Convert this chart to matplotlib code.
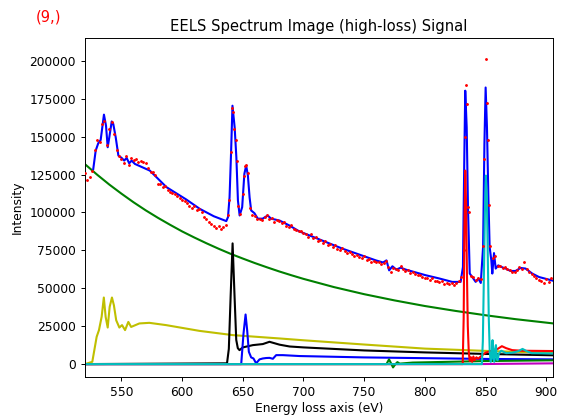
"""EELS high-loss spectrum with fitted model and components."""
import numpy as np
import matplotlib
matplotlib.use('Agg')
import matplotlib.pyplot as plt
from matplotlib.ticker import MultipleLocator

# measured spectrum (red dots), 2 eV grid 520..904
dot_e = np.arange(520, 905, 2)
dot_counts = [
    126000, 121500, 123500, 127500, 141000, 148000, 146500, 158000, 160000, 144500,
    155000, 159500, 152000, 141000, 137000, 135000, 132500, 137500, 131500, 136000,
    134500, 135500, 133500, 134000, 133000, 132500, 129000, 126500, 126500, 124500,
    119000, 118500, 117000, 117500, 114500, 113500, 112500, 112000, 111000, 109500,
    108500, 107500, 106500, 104000, 103000, 104000, 101500, 102000, 100000, 97000,
    95500, 94000, 92500, 91000, 90000, 91000, 89000, 90500, 92000, 98000,
    140000, 166000, 148000, 104000, 99000, 112000, 130500, 126000, 103000, 98500,
    97500, 96000, 95500, 95000, 97000, 98500, 96000, 96500, 94000, 95000,
    94500, 93000, 94000, 91000, 90500, 92000, 89000, 88500, 87500, 88000,
    86500, 86000, 84000, 85500, 83000, 83500, 81500, 82000, 80000, 81000,
    78500, 79000, 77000, 78500, 76000, 75500, 76500, 74500, 73000, 74000,
    72500, 71000, 72000, 70500, 70000, 71000, 68500, 69000, 67500, 68000,
    67000, 67500, 66000, 66500, 68000, 64000, 61000, 63500, 63000, 62000,
    64500, 62500, 61500, 62000, 60000, 60500, 59500, 58500, 59000, 57500,
    56500, 57000, 55500, 56500, 54500, 55000, 54000, 54500, 53000, 53500,
    52500, 53500, 52000, 53500, 55000, 57500, 75000, 184000, 100000, 58000,
    57500, 55500, 57000, 56000, 78000, 201000, 148000, 78000, 70000, 71000,
    65000, 64500, 63500, 64000, 62500, 62000, 61000, 60500, 62000, 64000,
    63000, 67000, 62500, 61000, 59500, 58000, 57000, 55500, 55000, 53500,
    56000, 54000, 57000,
]
# extra samples on the sharp edges
peak_dot_e = [639, 641, 643, 645, 651, 653, 833, 834.6, 835.4, 849, 851, 853]
peak_dot_counts = [108000, 169000, 155000, 134000, 124000, 131500,
                   150000, 171500, 103500, 135000, 172000, 105000]

# fitted model (blue)
model_e = [526.8, 528.8, 530.9, 532.9, 535.6, 537.3, 538.7, 540.0, 542.0, 543.3,
           545.3, 547.5, 550.1, 552.3, 554.3, 556.4, 558.4, 561.1, 573.4, 587.1,
           603.5, 614.5, 626.1, 636.4, 637.8, 639.1, 640.4, 641.5, 643.3, 644.7,
           646.0, 647.4, 649.5, 651.3, 652.8, 654.2, 655.6, 656.9, 659.6, 662.4,
           666.4, 670.5, 673.3, 680.2, 688.4, 696.6, 704.8, 732.2, 759.6, 765.6,
           768.4, 770.6, 773.3, 776.5, 780.2, 784.3, 800.7, 811.7, 822.6, 829.5,
           831.4, 832.5, 833.3, 834.5, 835.6, 837.0, 839.1, 841.9, 844.1, 846.1,
           848.0, 849.1, 850.1, 851.2, 852.3, 853.4, 854.8, 855.6, 857.0, 858.4,
           860.5, 863.3, 866.6, 870.6, 874.7, 878.9, 883.0, 888.5, 894.1, 902.3,
           905.5]
model = [128700, 140800, 145600, 147800, 164500, 157200, 143000, 149500, 160000, 158300,
         149500, 137500, 136000, 134200, 136000, 132400, 134200, 132000, 127600, 116700,
         108500, 102400, 97500, 94300, 96900, 110000, 140800, 170400, 156100, 136400,
         107900, 98000, 103500, 125500, 130900, 124300, 110000, 101300, 99500, 95900,
         95900, 98000, 95900, 94700, 91400, 87500, 84900, 76100, 68400, 67000,
         68400, 61800, 64500, 62300, 63600, 62300, 58600, 56500, 54200, 54200,
         64000, 134200, 180300, 156100, 101300, 59700, 57400, 54200, 56400, 53500,
         77200, 145200, 182400, 156100, 112300, 77200, 68400, 59700, 73200, 63000,
         65100, 64000, 63000, 61400, 61400, 63400, 63000, 59700, 57400, 55700,
         55000]

# power-law background (green)
bg_e = [520, 530, 540, 550, 560, 570, 580, 590, 600, 610, 620, 630, 640, 650,
        660, 670, 680, 690, 700, 725, 750, 775, 800, 825, 850, 875, 906]
bg = [131800, 124900, 118400, 112400, 106700, 101400, 96500, 91900, 87500, 83500,
      79700, 76100, 72700, 69600, 66600, 63800, 61100, 58600, 56200, 50800,
      46100, 42000, 38300, 35100, 32200, 29600, 26800]

# O K edge (yellow)
ok_e = [520, 526, 529.6, 531.5, 533.7, 535.5, 537, 538.7, 540.3, 542.2, 543.8,
        545.7, 548.3, 550.5, 553, 555.7, 558, 564.8, 573, 586.8, 614.3, 641.8,
        680.3, 700, 750, 800, 850, 906]
ok = [0, 1500, 18000, 22400, 31200, 43900, 31100, 24100, 37700, 43900, 38800,
      28900, 24100, 25700, 22400, 27800, 24500, 26800, 27200, 25700, 21900, 19100,
      16900, 15700, 12900, 10200, 8700, 7300]

# Mn L3 (black)
l3_e = [520, 637, 638.5, 640, 641.6, 643.2, 644.6, 645.9, 647.3, 650, 658.3,
        666.5, 672, 680.3, 688.6, 700, 750, 800, 850, 906]
l3 = [0, 500, 10000, 45000, 79600, 45000, 16000, 10500, 9200, 11000, 12500,
      13200, 14700, 12800, 11600, 11000, 9000, 7700, 6700, 5800]

# Mn L2 (blue)
l2_e = [520, 648.7, 650.6, 652.3, 653.6, 655, 656.9, 658.8, 661, 663.8, 666.5,
        669.3, 672, 674.8, 677.5, 683, 696.8, 750, 800, 850, 906]
l2 = [0, 0, 20200, 32700, 22400, 8100, 4400, 3700, 500, 3100, 3700,
      4000, 4100, 3500, 5900, 5900, 5300, 4400, 3900, 3400, 3100]

# small edge near 770 eV (green)
fe_e = [520, 768.4, 770.5, 772.5, 773.8, 775.8, 777.4, 779.3, 790, 850, 906]
fe = [0, 0, 3100, 0, -2200, 0, 1300, 300, 1000, 2000, 2500]

# La M5 (red)
m5_e = [520, 831.2, 832, 832.6, 833.3, 834, 834.7, 835.4, 836.2, 837, 838, 839,
        840, 841, 842.5, 844, 846, 850, 855, 860, 863.5, 867, 872, 880, 906]
m5 = [0, 0, 30000, 90000, 127600, 105000, 60000, 25000, 8000, 2000, 4500, 1500,
      5000, 2500, 4500, 3500, 5000, 7500, 8800, 10000, 11800, 10500, 9200, 8800, 8600]

# La M4 (cyan)
m4_e = [520, 847, 847.8, 848.6, 849.5, 850.3, 851.1, 851.9, 852.7, 853.5, 854.3,
        855.1, 855.8, 856.5, 857.2, 857.9, 858.6, 859.3, 860, 861, 863, 867, 872,
        877, 880.5, 884, 888, 906]
m4 = [0, 0, 15000, 55000, 100000, 124300, 110000, 70000, 30000, 8000, 1500,
      5000, 15800, 4000, 1500, 10000, 12500, 3000, 2500, 7000, 8800, 7200, 7500,
      8500, 10000, 8500, 7200, 7000]

# magenta component, flat near zero
mg_e = [520, 845, 906]
mg = [0, 0, 500]

fs = 8.8
fig = plt.figure(figsize=(5.63, 4.15), dpi=100)
ax = fig.add_axes([0.151, 0.092, 0.831, 0.817])
lw = 1.5
ax.plot(bg_e, bg, color='g', lw=lw)
ax.plot(ok_e, ok, color='y', lw=lw)
ax.plot(l3_e, l3, color='k', lw=lw)
ax.plot(l2_e, l2, color='b', lw=lw)
ax.plot(mg_e, mg, color='m', lw=lw)
ax.plot(fe_e, fe, color='g', lw=lw)
ax.plot(model_e, model, color='b', lw=lw)
ax.plot(m5_e, m5, color='r', lw=lw)
ax.plot(m4_e, m4, color='c', lw=lw)
ax.plot(dot_e, dot_counts, '.', color='r', ms=2.1, zorder=5)
ax.plot(peak_dot_e, peak_dot_counts, '.', color='r', ms=2.1, zorder=5)

ax.set_xlim(520, 905.5)
ax.set_ylim(-8400, 215200)
ax.xaxis.set_major_locator(MultipleLocator(50))
ax.yaxis.set_major_locator(MultipleLocator(25000))
ax.tick_params(labelsize=fs, length=3.1, width=0.7)
for s in ax.spines.values():
    s.set_linewidth(0.7)
ax.set_xlabel('Energy loss axis (eV)', fontsize=fs, labelpad=2)
ax.set_ylabel('Intensity', fontsize=fs)
ax.set_title('EELS Spectrum Image (high-loss) Signal', fontsize=10.6, pad=5)
fig.text(0.063, 0.958, '(9,)', color='red', fontsize=10.6, va='center')
fig.savefig('out.png', dpi=100)
